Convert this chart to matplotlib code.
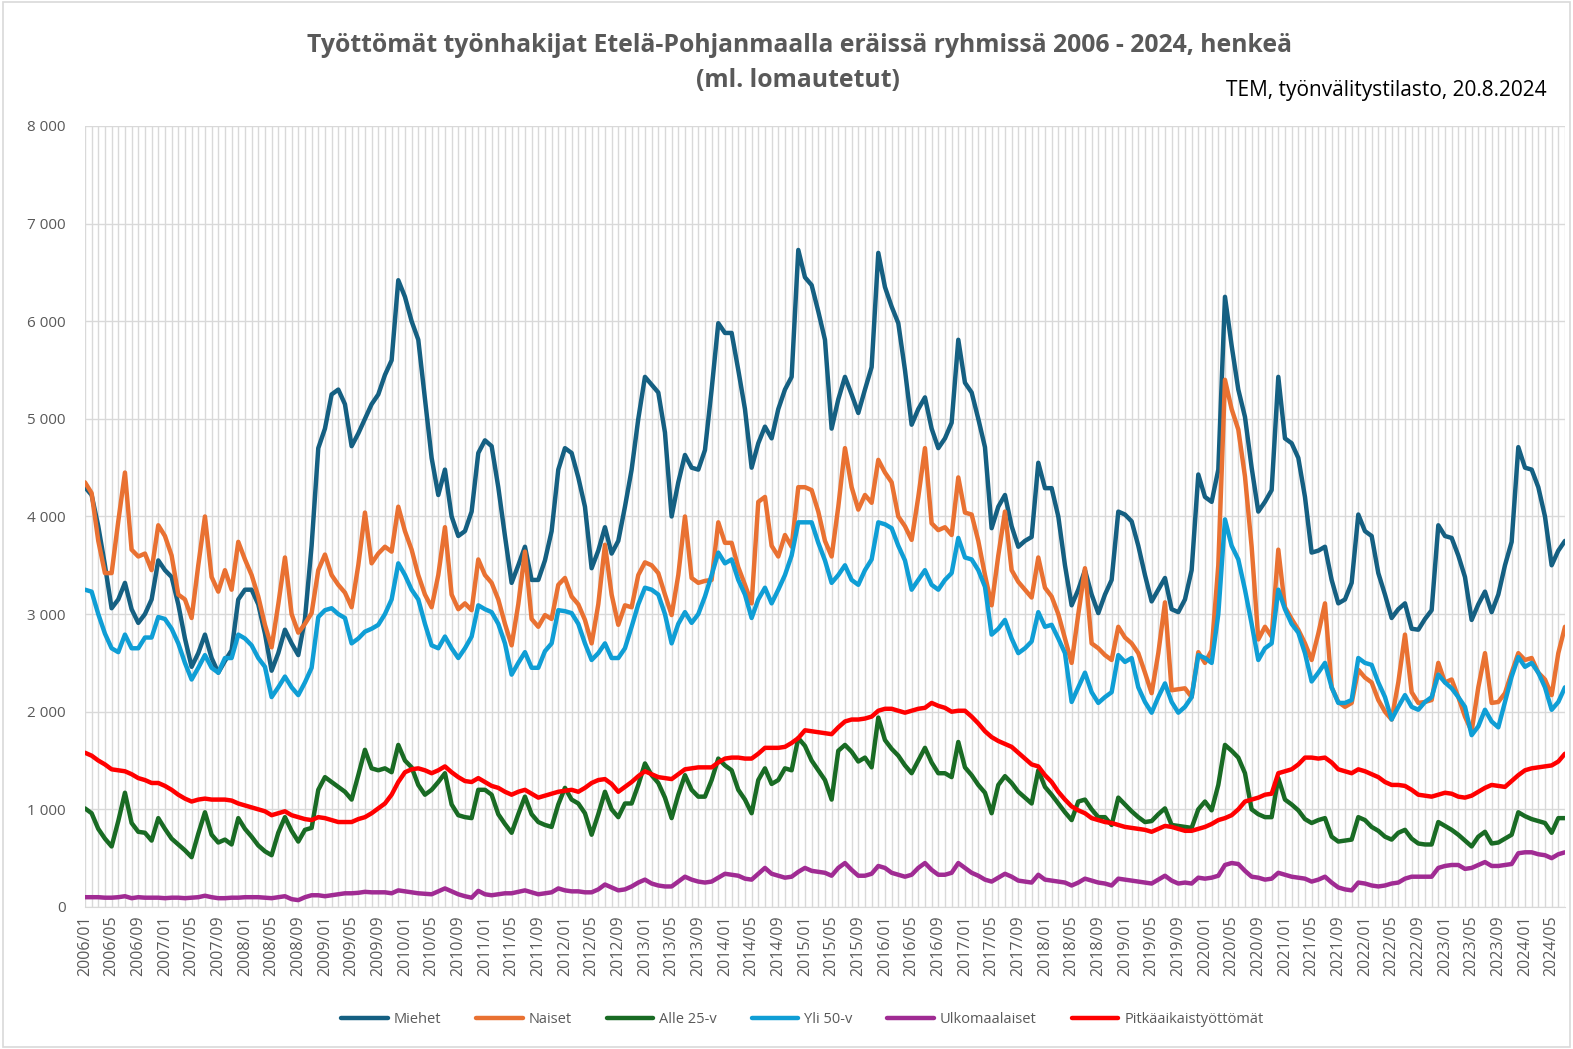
import matplotlib
matplotlib.use("Agg")
import matplotlib.pyplot as plt
from matplotlib.patches import Rectangle

plt.rcParams['font.family'] = ['Open Sans', 'DejaVu Sans']

# kuukaudet 2006/01 - 2024/07
months = [f"{y}/{m:02d}" for y in range(2006, 2025) for m in range(1, 13)][:223]

miehet = [
    4300, 4220, 3900, 3500, 3060, 3150, 3320, 3050, 2910, 3000, 3150, 3550,
    3450, 3380, 3100, 2750, 2460, 2600, 2790, 2550, 2400, 2520, 2630, 3150,
    3250, 3250, 3100, 2800, 2420, 2600, 2840, 2700, 2580, 2950, 3700, 4700,
    4900, 5250, 5300, 5150, 4720, 4850, 5000, 5150, 5250, 5450, 5600, 6420,
    6250, 6000, 5810, 5200, 4600, 4220, 4480, 4000, 3800, 3850, 4050, 4650,
    4780, 4720, 4300, 3800, 3320, 3500, 3690, 3350, 3350, 3550, 3850, 4480,
    4700, 4650, 4400, 4100, 3470, 3650, 3890, 3620, 3750, 4100, 4480, 5000,
    5430, 5350, 5270, 4860, 4000, 4350, 4630, 4500, 4480, 4680, 5300, 5980,
    5880, 5880, 5500, 5100, 4500, 4750, 4920, 4800, 5100, 5300, 5430, 6730,
    6450, 6370, 6100, 5810, 4900, 5200, 5430, 5250, 5060, 5300, 5530, 6700,
    6350, 6150, 5980, 5500, 4940, 5100, 5220, 4900, 4700, 4800, 4960, 5810,
    5370, 5270, 5000, 4710, 3880, 4100, 4220, 3900, 3690, 3750, 3790, 4550,
    4290, 4290, 4000, 3500, 3090, 3250, 3450, 3200, 3010, 3200, 3350, 4050,
    4020, 3950, 3700, 3400, 3130, 3250, 3370, 3050, 3020, 3150, 3450, 4430,
    4200, 4150, 4480, 6250, 5750, 5300, 5020, 4500, 4050, 4150, 4270, 5430,
    4800, 4750, 4600, 4200, 3630, 3650, 3690, 3350, 3110, 3150, 3320, 4020,
    3850, 3800, 3420, 3200, 2960, 3050, 3110, 2850, 2840, 2950, 3040, 3910,
    3800, 3780, 3600, 3380, 2940, 3100, 3230, 3020, 3200, 3500, 3740, 4710,
    4500, 4480, 4300, 4000, 3500, 3650, 3750,
]

naiset = [
    4350, 4240, 3750, 3420, 3420, 3950, 4450, 3660, 3590, 3620, 3450, 3910,
    3800, 3600, 3200, 3150, 2960, 3500, 4000, 3380, 3230, 3450, 3250, 3740,
    3560, 3400, 3180, 2890, 2660, 3100, 3580, 3000, 2810, 2900, 3010, 3450,
    3610, 3400, 3300, 3220, 3070, 3500, 4040, 3520, 3620, 3690, 3640, 4100,
    3850, 3660, 3400, 3200, 3070, 3400, 3890, 3200, 3050, 3110, 3040, 3560,
    3400, 3320, 3150, 2900, 2680, 3100, 3640, 2950, 2870, 2990, 2950, 3300,
    3370, 3180, 3100, 2940, 2700, 3100, 3710, 3200, 2890, 3090, 3070, 3400,
    3530, 3500, 3420, 3200, 2990, 3400, 4000, 3370, 3320, 3340, 3350, 3940,
    3730, 3730, 3480, 3300, 3110, 4150, 4200, 3700, 3590, 3810, 3690, 4300,
    4300, 4270, 4050, 3750, 3590, 4100, 4700, 4300, 4070, 4220, 4140, 4580,
    4450, 4350, 4000, 3900, 3760, 4200, 4700, 3930, 3860, 3890, 3810, 4400,
    4040, 4020, 3750, 3400, 3090, 3600, 4050, 3450, 3330, 3250, 3170, 3580,
    3270, 3180, 3000, 2750, 2500, 3000, 3470, 2700, 2650, 2580, 2530, 2870,
    2760, 2700, 2600, 2400, 2190, 2600, 3120, 2220, 2230, 2240, 2150, 2610,
    2500, 2630, 3500, 5400, 5100, 4890, 4410, 3690, 2740, 2870, 2770, 3660,
    3070, 2950, 2840, 2700, 2530, 2800, 3110, 2250, 2100, 2050, 2090, 2430,
    2350, 2300, 2120, 2000, 1920, 2300, 2790, 2200, 2090, 2100, 2120, 2500,
    2300, 2330, 2150, 1950, 1800, 2250, 2600, 2090, 2100, 2190, 2400, 2600,
    2530, 2550, 2400, 2330, 2170, 2600, 2870,
]

alle25 = [
    1010, 960, 800, 700, 620, 880, 1170, 860, 770, 760, 680, 910,
    800, 700, 640, 580, 510, 750, 970, 740, 660, 690, 640, 910,
    800, 720, 630, 570, 530, 760, 920, 780, 670, 790, 810, 1200,
    1330, 1280, 1230, 1180, 1100, 1350, 1610, 1420, 1400, 1420, 1380, 1660,
    1500, 1430, 1250, 1150, 1200, 1280, 1370, 1050, 940, 920, 910, 1200,
    1200, 1150, 950, 850, 760, 950, 1130, 950, 870, 840, 820, 1050,
    1220, 1100, 1060, 960, 740, 950, 1180, 1000, 920, 1060, 1060, 1250,
    1470, 1350, 1270, 1120, 910, 1150, 1350, 1200, 1130, 1130, 1300, 1520,
    1450, 1400, 1200, 1100, 960, 1300, 1420, 1260, 1300, 1420, 1400, 1730,
    1650, 1500, 1400, 1300, 1100, 1600, 1660, 1590, 1490, 1530, 1430, 1940,
    1710, 1620, 1550, 1450, 1370, 1500, 1630, 1480, 1370, 1370, 1330, 1690,
    1430, 1350, 1250, 1170, 960, 1250, 1340, 1270, 1180, 1120, 1060, 1400,
    1230, 1150, 1060, 970, 890, 1080, 1100, 1000, 920, 920, 840, 1120,
    1050, 980, 920, 870, 880, 950, 1010, 840, 830, 820, 810, 1000,
    1080, 990, 1250, 1660, 1600, 1530, 1370, 1000, 950, 920, 920, 1320,
    1100, 1050, 990, 900, 860, 890, 910, 720, 670, 680, 690, 920,
    890, 820, 780, 720, 690, 760, 790, 700, 650, 640, 640, 870,
    830, 790, 740, 680, 620, 720, 770, 650, 660, 700, 740, 970,
    930, 900, 880, 860, 760, 910, 910,
]

yli50 = [
    3250, 3230, 3000, 2800, 2650, 2610, 2790, 2650, 2650, 2760, 2760, 2970,
    2950, 2850, 2700, 2500, 2330, 2450, 2580, 2450, 2400, 2550, 2550, 2790,
    2750, 2680, 2550, 2460, 2150, 2250, 2360, 2250, 2170, 2300, 2450, 2970,
    3040, 3060, 3000, 2960, 2700, 2750, 2820, 2850, 2890, 3000, 3150, 3520,
    3400, 3250, 3150, 2900, 2680, 2650, 2770, 2650, 2550, 2650, 2770, 3090,
    3050, 3020, 2900, 2700, 2380, 2500, 2610, 2450, 2450, 2620, 2700, 3040,
    3030, 3010, 2900, 2700, 2530, 2600, 2700, 2550, 2550, 2650, 2870, 3100,
    3270, 3250, 3200, 3000, 2700, 2900, 3020, 2910, 3000, 3180, 3400, 3630,
    3520, 3560, 3350, 3200, 2960, 3150, 3270, 3110, 3250, 3400, 3600, 3940,
    3940, 3940, 3730, 3550, 3320, 3400, 3500, 3350, 3300, 3450, 3560, 3940,
    3920, 3880, 3700, 3550, 3250, 3350, 3450, 3300, 3250, 3350, 3420, 3780,
    3580, 3560, 3450, 3280, 2790, 2850, 2940, 2750, 2600, 2650, 2720, 3020,
    2870, 2890, 2750, 2600, 2100, 2250, 2400, 2200, 2090, 2150, 2200, 2580,
    2510, 2550, 2250, 2100, 1990, 2150, 2290, 2100, 1990, 2050, 2150, 2580,
    2550, 2500, 3000, 3970, 3700, 3560, 3250, 2900, 2530, 2650, 2700, 3250,
    3050, 2900, 2810, 2600, 2310, 2400, 2500, 2250, 2090, 2090, 2120, 2550,
    2500, 2480, 2300, 2150, 1920, 2050, 2170, 2050, 2020, 2100, 2150, 2380,
    2300, 2240, 2150, 2050, 1760, 1850, 2020, 1900, 1840, 2100, 2360, 2560,
    2460, 2500, 2400, 2250, 2020, 2100, 2250,
]

ulkomaalaiset = [
    100, 100, 100, 95, 95, 100, 110, 90, 100, 95, 95, 95,
    90, 95, 95, 90, 95, 100, 115, 100, 90, 90, 95, 95,
    100, 100, 100, 95, 90, 100, 110, 80, 70, 100, 120, 120,
    110, 120, 130, 140, 140, 145, 155, 150, 150, 150, 140, 170,
    160, 150, 140, 135, 130, 160, 190, 160, 130, 110, 95, 165,
    130, 120, 130, 140, 140, 155, 170, 150, 130, 140, 150, 190,
    170, 160, 160, 150, 150, 180, 230, 200, 170, 180, 210, 250,
    280, 240, 220, 210, 210, 260, 310, 280, 260, 250, 260, 300,
    340, 330, 320, 290, 280, 340, 400, 340, 320, 300, 310, 360,
    400, 370, 360, 350, 320, 400, 450, 380, 320, 320, 340, 420,
    400, 350, 330, 310, 330, 400, 450, 380, 330, 330, 350, 450,
    400, 350, 320, 280, 260, 300, 340, 310, 270, 260, 250, 330,
    280, 270, 260, 250, 220, 250, 290, 270, 250, 240, 220, 290,
    280, 270, 260, 250, 240, 280, 320, 270, 240, 250, 240, 300,
    290, 300, 320, 430, 450, 440, 370, 310, 300, 280, 290, 350,
    330, 310, 300, 290, 260, 280, 310, 250, 200, 180, 170, 250,
    240, 220, 210, 220, 240, 250, 290, 310, 310, 310, 310, 400,
    420, 430, 430, 390, 400, 430, 460, 420, 420, 430, 440, 550,
    560, 560, 540, 530, 500, 540, 560,
]

pitkaaikais = [
    1580, 1550, 1500, 1460, 1410, 1400, 1390, 1360, 1320, 1300, 1270, 1270,
    1240, 1200, 1150, 1110, 1080, 1100, 1110, 1100, 1100, 1100, 1090, 1060,
    1040, 1020, 1000, 980, 940, 960, 980, 940, 920, 900, 890, 920,
    910, 890, 870, 870, 870, 900, 920, 960, 1010, 1060, 1150, 1280,
    1380, 1410, 1420, 1400, 1370, 1400, 1440, 1380, 1330, 1290, 1280, 1320,
    1280, 1240, 1220, 1180, 1150, 1180, 1200, 1160, 1120, 1140, 1160, 1180,
    1190, 1200, 1180, 1220, 1270, 1300, 1310, 1260, 1180, 1230, 1280, 1340,
    1390, 1360, 1330, 1320, 1310, 1360, 1410, 1420, 1430, 1430, 1430, 1480,
    1520, 1530, 1530, 1520, 1520, 1570, 1630, 1630, 1630, 1640, 1680, 1730,
    1810, 1800, 1790, 1780, 1770, 1840, 1900, 1920, 1920, 1930, 1950, 2010,
    2030, 2030, 2010, 1990, 2010, 2030, 2040, 2090, 2060, 2040, 2000, 2010,
    2010, 1950, 1880, 1800, 1740, 1700, 1670, 1640, 1580, 1520, 1460, 1440,
    1350, 1280, 1180, 1100, 1030, 990, 960, 910, 890, 870, 860, 840,
    820, 810, 800, 790, 770, 800, 830, 820, 800, 780, 780, 800,
    820, 850, 890, 910, 940, 1000, 1080, 1100, 1120, 1150, 1160, 1370,
    1390, 1410, 1460, 1530, 1530, 1520, 1530, 1480, 1410, 1390, 1370, 1410,
    1390, 1360, 1330, 1280, 1250, 1250, 1240, 1200, 1150, 1140, 1130, 1150,
    1170, 1160, 1130, 1120, 1140, 1180, 1220, 1250, 1240, 1230, 1290, 1350,
    1400, 1420, 1430, 1440, 1450, 1490, 1570,
]

series = [
    ("Miehet", miehet, "#156082"),
    ("Naiset", naiset, "#E97132"),
    ("Alle 25-v", alle25, "#196B24"),
    ("Yli 50-v", yli50, "#0F9ED5"),
    ("Ulkomaalaiset", ulkomaalaiset, "#A02B93"),
    ("Pitkäaikaistyöttömät", pitkaaikais, "#FF0000"),
]

GRID = "#D9D9D9"
TXT = "#595959"

fig = plt.figure(figsize=(15.73, 10.49), dpi=100)
ax = fig.add_axes([0.054, 0.1354, 0.9409, 0.7445])

x = list(range(len(months)))
for name, vals, col in series:
    ax.plot(x, vals, color=col, lw=3.2, label=name,
            solid_joinstyle='round', solid_capstyle='round')

ax.set_xlim(0, len(months) - 1)
ax.set_ylim(0, 8000)
ax.set_yticks(range(0, 8001, 1000))
ax.set_yticklabels([f"{v:,}".replace(",", " ") for v in range(0, 8001, 1000)])
ax.set_xticks(x, minor=True)
ax.set_xticks(x[::4])
ax.set_xticklabels(months[::4], rotation=90)

ax.grid(True, which='both', axis='x', color=GRID, lw=1.0)
ax.grid(True, which='major', axis='y', color=GRID, lw=1.0)
ax.set_axisbelow(True)
for s in ['top', 'right', 'left']:
    ax.spines[s].set_visible(False)
ax.spines['bottom'].set_color(GRID)
ax.tick_params(axis='both', which='both', length=0, colors=TXT, labelsize=11)
ax.tick_params(axis='x', labelsize=11.5, pad=6)
ax.tick_params(axis='y', pad=14)

fig.text(0.508, 0.957, "Työttömät työnhakijat Etelä-Pohjanmaalla eräissä ryhmissä 2006 - 2024, henkeä",
         ha='center', va='center', fontsize=17.8, fontweight='bold', color=TXT)
fig.text(0.507, 0.923, "(ml. lomautetut)", ha='center', va='center',
         fontsize=17.8, fontweight='bold', color=TXT)
fig.text(0.9835, 0.914, "TEM, työnvälitystilasto, 20.8.2024", ha='right', va='center',
         fontsize=15, color='black')

fig.legend(loc='center', bbox_to_anchor=(0.51, 0.028), ncol=6, frameon=False,
           fontsize=10.5, handlelength=3.2, columnspacing=2.4, handletextpad=0.4,
           labelcolor=TXT)

fig.patches.append(Rectangle((0.002, 0.002), 0.996, 0.996, transform=fig.transFigure,
                             fill=False, edgecolor=GRID, lw=1.2))

fig.savefig("out.png", dpi=100)
